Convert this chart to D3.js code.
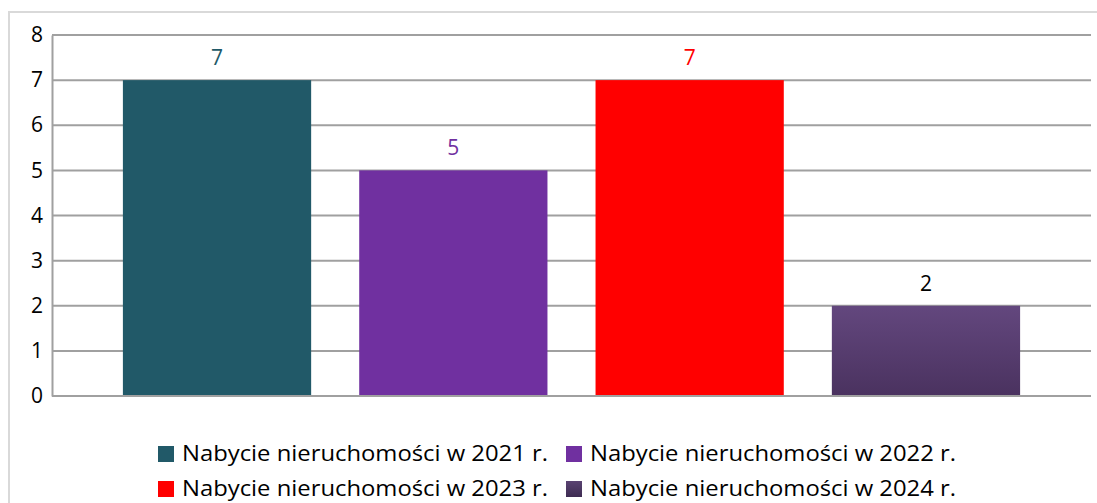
<!DOCTYPE html>
<html>
<head>
<meta charset="utf-8">
<script src="https://cdn.jsdelivr.net/npm/d3@7"></script>
<style>
  body { margin: 0; background: #fff; }
  svg text { font-family: "Open Sans", "Noto Sans", sans-serif; }
</style>
</head>
<body>
<div id="chart"></div>
<script>
// chart data
var seriesNames = ["Nabycie nieruchomości w 2021 r.", "Nabycie nieruchomości w 2022 r.",
                   "Nabycie nieruchomości w 2023 r.", "Nabycie nieruchomości w 2024 r."];
var seriesValues = [7, 5, 7, 2];
var seriesColors = ["#215968", "#7030a0", "#ff0000", "url(#grad2024)"];
var labelColors = ["#215968", "#7030a0", "#ff0000", "#000000"];
var swatchColors = ["#215968", "#7030a0", "#ff0000", "url(#gradSwatch)"];
var yTicks = [0, 1, 2, 3, 4, 5, 6, 7, 8];

var svgWidth = 1097;
var svgHeight = 503;

var svg = d3.select("#chart")
  .append("svg")
  .attr("width", svgWidth)
  .attr("height", svgHeight);

var defs = svg.append("defs");
var grad = defs.append("linearGradient")
  .attr("id", "grad2024")
  .attr("x1", 0).attr("y1", 0).attr("x2", 0).attr("y2", 1);
grad.append("stop").attr("offset", "0%").attr("stop-color", "#63477e");
grad.append("stop").attr("offset", "100%").attr("stop-color", "#4a325f");
var grad2 = defs.append("linearGradient")
  .attr("id", "gradSwatch")
  .attr("x1", 0).attr("y1", 0).attr("x2", 0).attr("y2", 1);
grad2.append("stop").attr("offset", "0%").attr("stop-color", "#5a4372");
grad2.append("stop").attr("offset", "100%").attr("stop-color", "#3e2c52");

// outer frame
svg.append("path")
  .attr("d", "M9,503 V12 H1097")
  .attr("fill", "none")
  .attr("stroke", "#d9d9d9")
  .attr("stroke-width", 2);

var plot = { left: 52, right: 1091, top: 35, bottom: 396 };

var y = d3.scaleLinear()
  .domain([0, 8])
  .range([plot.bottom, plot.top]);

var x = d3.scaleBand()
  .domain(seriesNames)
  .range([plot.left, plot.right])
  .paddingInner(0.2034)
  .paddingOuter(0.3);

// gridlines
svg.append("g")
  .selectAll("line")
  .data(yTicks)
  .enter()
  .append("line")
  .attr("x1", plot.left)
  .attr("x2", plot.right)
  .attr("y1", d => y(d))
  .attr("y2", d => y(d))
  .attr("stroke", "#a0a0a0")
  .attr("stroke-width", 2);

// left axis
var leftAxis = d3.axisLeft(y)
  .tickValues(yTicks)
  .tickSize(0)
  .tickPadding(9)
  .tickFormat(d3.format("d"));

var yAxis = svg.append("g")
  .attr("transform", `translate(${plot.left}, 0)`)
  .call(leftAxis);
yAxis.select(".domain")
  .attr("stroke", "#a0a0a0")
  .attr("stroke-width", 2);
yAxis.selectAll("text")
  .attr("font-size", "21px")
  .attr("fill", "#000")
  .style("font-family", "'Open Sans', 'Noto Sans', sans-serif");

// bars
svg.append("g")
  .selectAll("rect")
  .data(seriesValues)
  .enter()
  .append("rect")
  .attr("x", (d, i) => x(seriesNames[i]))
  .attr("y", d => y(d))
  .attr("width", x.bandwidth())
  .attr("height", d => y(0) - y(d))
  .attr("fill", (d, i) => seriesColors[i]);

// redraw baseline over bars
svg.append("line")
  .attr("x1", plot.left).attr("x2", plot.right)
  .attr("y1", y(0)).attr("y2", y(0))
  .attr("stroke", "#a0a0a0")
  .attr("stroke-width", 2);

// value labels
svg.append("g")
  .selectAll("text")
  .data(seriesValues)
  .enter()
  .append("text")
  .attr("x", (d, i) => x(seriesNames[i]) + x.bandwidth() / 2)
  .attr("y", d => y(d) - 15)
  .attr("text-anchor", "middle")
  .attr("font-size", "21px")
  .attr("fill", (d, i) => labelColors[i])
  .text(d => d);

// legend
var legendCols = [158, 566];
var legendRows = [454, 489];

var legend = svg.append("g")
  .selectAll("g")
  .data(seriesNames)
  .enter()
  .append("g")
  .attr("transform", (d, i) => `translate(${legendCols[i % 2]}, ${legendRows[Math.floor(i / 2)]})`);

legend.append("rect")
  .attr("x", 0)
  .attr("y", -8)
  .attr("width", 16)
  .attr("height", 16)
  .attr("fill", (d, i) => swatchColors[i]);

legend.append("text")
  .attr("x", 24)
  .attr("y", 0)
  .attr("dy", "0.35em")
  .attr("font-size", "21px")
  .attr("fill", "#000")
  .attr("textLength", 366)
  .attr("lengthAdjust", "spacingAndGlyphs")
  .text(d => d);
</script>
</body>
</html>
